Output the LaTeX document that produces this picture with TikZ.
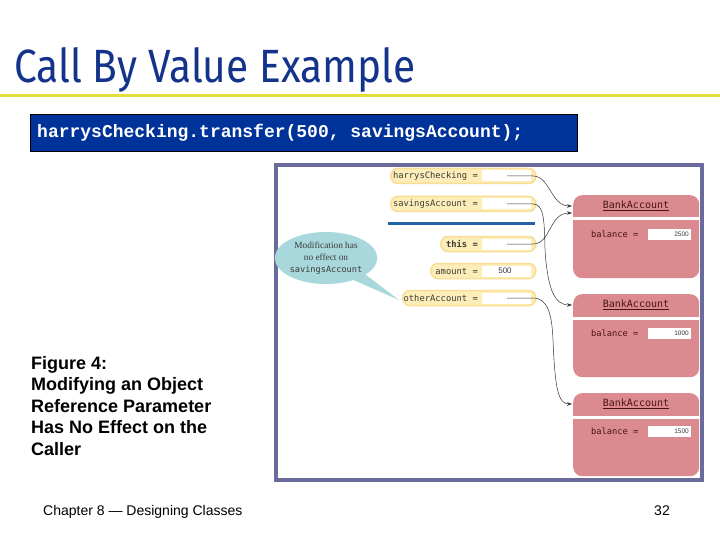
\documentclass[tikz,border=0pt]{standalone}
\usepackage{fontspec}
\setmainfont{Liberation Sans}
\newfontfamily\codefont{Liberation Mono}
\newfontfamily\vmono{DejaVu Sans Mono}
\newfontfamily\titlefont{Fira Sans}
\newfontfamily\bubserif{Liberation Serif}
\usetikzlibrary{shapes.callouts,arrows.meta}
\definecolor{framec}{HTML}{6A6A9C}
\definecolor{pinkc}{HTML}{DB8A8F}
\definecolor{ylwfill}{HTML}{FDEDB8}
\definecolor{ylwdraw}{HTML}{F9DE94}
\definecolor{bluebar}{HTML}{1F63A6}
\definecolor{bubc}{HTML}{A8D8DC}
\definecolor{titlec}{HTML}{14348C}
\definecolor{codebg}{HTML}{003399}
\definecolor{ylwline}{HTML}{E5DD3A}
\definecolor{acctext}{HTML}{4A1515}
\definecolor{labtext}{HTML}{3A3A3A}
\definecolor{arrowc}{HTML}{333333}
\tikzset{
  ybox/.style={fill=ylwfill, draw=ylwdraw, line width=1.5pt, rounded corners=7pt, minimum height=15pt, inner sep=0pt, anchor=west},
  winset/.style={fill=white, minimum width=49pt, minimum height=11pt, inner sep=0pt, anchor=east},
  vlabel/.style={font=\vmono\fontsize{8.8}{10}\selectfont, text=labtext, anchor=east, inner sep=0pt},
  bacc/.style={fill=pinkc, rounded corners=9pt, minimum width=126pt, minimum height=83pt, inner sep=0pt, anchor=north west},
  acctitle/.style={font=\vmono\fontsize{10}{12}\selectfont, text=acctext, inner sep=0pt},
  balab/.style={font=\vmono\fontsize{8.7}{10}\selectfont, text=acctext, anchor=west, inner sep=0pt},
  valbox/.style={fill=white, minimum width=43pt, minimum height=11pt, inner sep=0pt, anchor=east},
  valtext/.style={font=\fontsize{6.5}{8}\selectfont, text=labtext, anchor=east, inner sep=0pt},
  refarrow/.style={draw=arrowc, line width=0.5pt, -{Stealth[length=5pt,width=3.5pt]}},
}
\begin{document}
\begin{tikzpicture}[x=1pt,y=-1pt]
\useasboundingbox (0,0) rectangle (720,540);
\fill[white] (0,0) rectangle (720,540);

% title
\node[inner sep=0pt, anchor=base west, text=titlec] (title) at (14,83)
  {\resizebox{401pt}{35pt}{\titlefont\fontsize{40}{40}\selectfont Call By Value Example}};
\draw[ylwline, line width=3pt] (0,96) -- (720,96);

% code line
\node[fill=codebg, draw=black, line width=0.6pt, minimum width=547pt, minimum height=37pt, anchor=north west, inner sep=0pt] (codebox) at (30,114) {};
\node[inner sep=0pt, anchor=base west, text=white, font=\codefont\bfseries\fontsize{18}{20}\selectfont] (code) at (37,138) {harrysChecking.transfer(500, savingsAccount);};

% figure frame
\draw[framec, line width=4pt, fill=white] (276,165) rectangle (702,480);

% bank accounts
\node[bacc] (acc1) at (573,195) {};
\node[bacc] (acc2) at (573,294) {};
\node[bacc] (acc3) at (573,393) {};
\fill[white] (573,217.5) rectangle (699,220.5);
\fill[white] (573,316.5) rectangle (699,319.5);
\fill[white] (573,415.5) rectangle (699,418.5);
\node[acctitle] (acc1T) at (636,206) {\underline{BankAccount}};
\node[acctitle] (acc2T) at (636,305) {\underline{BankAccount}};
\node[acctitle] (acc3T) at (636,404) {\underline{BankAccount}};
\node[balab] (acc1L) at (591,234.5) {balance =};
\node[balab] (acc2L) at (591,333) {balance =};
\node[balab] (acc3L) at (591,431.5) {balance =};
\node[valbox] (acc1V) at (691,234.5) {};
\node[valbox] (acc2V) at (691,333) {};
\node[valbox] (acc3V) at (691,431.5) {};
\node[valtext] (acc1N) at (689,234.5) {2500};
\node[valtext] (acc2N) at (689,333) {1000};
\node[valtext] (acc3N) at (689,431.5) {1500};

% variable boxes
\node[ybox, minimum width=145pt] (hcB) at (390,176) {};
\node[winset] (hcW) at (531,176) {};
\node[vlabel] (hcL) at (478,176) {harrysChecking =};
\node[ybox, minimum width=145pt] (saB) at (390,204) {};
\node[winset] (saW) at (531,204) {};
\node[vlabel] (saL) at (478,204) {savingsAccount =};
\draw[bluebar, line width=3pt] (388,224) -- (535,224);
\node[ybox, minimum width=95pt] (thB) at (440,244) {};
\node[winset] (thW) at (531,244) {};
\node[vlabel, font=\vmono\bfseries\fontsize{8.8}{10}\selectfont] (thL) at (478,244) {this =};
\node[ybox, minimum width=105pt] (amB) at (430,271) {};
\node[winset] (amW) at (531,271) {};
\node[vlabel] (amL) at (478,271) {amount =};
\node[inner sep=0pt, text=labtext, font=\fontsize{8}{9}\selectfont] (amV) at (505,271) {500};
\node[ybox, minimum width=133pt] (oaB) at (402,298) {};
\node[winset] (oaW) at (531,298) {};
\node[vlabel] (oaL) at (478,298) {otherAccount =};

% arrow ends
\coordinate (hcT) at (507,176);
\coordinate (saT) at (507,204);
\coordinate (thT) at (507,244);
\coordinate (oaT) at (507,298);
\coordinate (acc1a) at (572,206);
\coordinate (acc1b) at (572,213);
\coordinate (acc2a) at (572,305);
\coordinate (acc3a) at (572,404);

\draw[refarrow] (hcT) -- (533,176) .. controls (550,176) and (551,206) .. (acc1a);
\draw[refarrow] (thT) -- (533,244) .. controls (551,244) and (549,213) .. (acc1b);
\draw[refarrow] (saT) -- (533,204) .. controls (548,204) and (543,238) .. (546,262) .. controls (549,288) and (554,305) .. (acc2a);
\draw[refarrow] (oaT) -- (533,298) .. controls (548,298) and (552,315) .. (553,340) .. controls (555,388) and (558,404) .. (acc3a);

% callout
\node[ellipse callout, fill=bubc, minimum width=97pt, minimum height=52pt, inner sep=0pt,
      callout absolute pointer={(399,300)}, callout pointer arc=18, align=center, text=labtext] (bub) at (326,258)
  {\bubserif\fontsize{9.3}{11}\selectfont Modification has\\
   \bubserif\fontsize{9.3}{11}\selectfont no effect on\\
   \vmono\fontsize{8.6}{11}\selectfont savingsAccount};

% caption
\node[inner sep=0pt, anchor=base west, align=left, font=\bfseries\fontsize{18}{21.6}\selectfont] (cap) at (31,455.4)
  {Figure 4:\\Modifying an Object\\Reference Parameter\\Has No Effect on the\\Caller};

% footer
\node[inner sep=0pt, anchor=base west, font=\fontsize{14}{16}\selectfont] (foot) at (43,515) {Chapter 8 --- Designing Classes};
\node[inner sep=0pt, anchor=base east, font=\fontsize{14}{16}\selectfont] (pnum) at (670,515) {32};
\end{tikzpicture}
\end{document}
